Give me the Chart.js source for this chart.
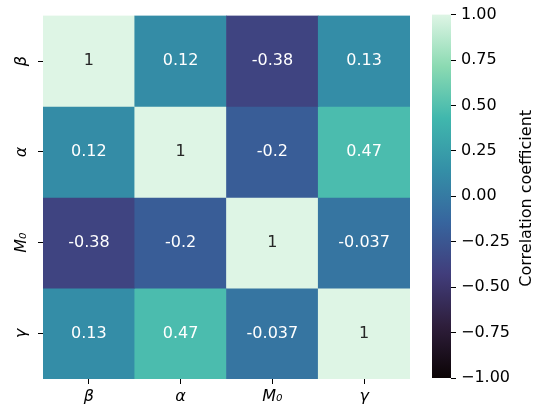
<html>
<head>
<script src="https://cdn.jsdelivr.net/npm/chart.js@4.4.0/dist/chart.umd.min.js"></script>
<style>
  body { margin: 0; background: #fff; }
  #wrap { position: relative; width: 541px; height: 410px; }
  #wrap canvas { position: absolute; left: 0; top: 0; }
</style>
</head>
<body>
<div id="wrap">
  <canvas id="heat" width="541" height="410"></canvas>
  <canvas id="cbar" width="541" height="410"></canvas>
</div>
<script>
// variables (rows top->bottom, columns left->right)
const varLabels = ['β', 'α', 'M₀', 'γ'];

// correlation matrix, one array per row
const corrBeta  = [1, 0.12, -0.38, 0.13];
const corrAlpha = [0.12, 1, -0.2, 0.47];
const corrM0    = [-0.38, -0.2, 1, -0.037];
const corrGamma = [0.13, 0.47, -0.037, 1];

const cbarTicks = [-1, -0.75, -0.5, -0.25, 0, 0.25, 0.5, 0.75, 1];
const cbarTitle = 'Correlation coefficient';

// mako colormap, approximated by a few samples
const makoStops = [
  [0, '#0b0405'], [1/7, '#2e1e3b'], [2/7, '#413d7b'], [3/7, '#37659e'],
  [4/7, '#348fa7'], [5/7, '#40b7ad'], [6/7, '#8bdab2'], [1, '#def5e5']
];

function hexRgb(h) {
  return [parseInt(h.slice(1,3),16), parseInt(h.slice(3,5),16), parseInt(h.slice(5,7),16)];
}
function makoRgb(v) {
  let t = (v + 1) / 2;
  t = Math.max(0, Math.min(1, t));
  for (let i = 1; i < makoStops.length; i++) {
    if (t <= makoStops[i][0]) {
      const [t0, c0] = makoStops[i-1], [t1, c1] = makoStops[i];
      const f = (t - t0) / (t1 - t0);
      const a = hexRgb(c0), b = hexRgb(c1);
      return a.map((x, k) => Math.round(x + (b[k] - x) * f));
    }
  }
  return hexRgb(makoStops[makoStops.length-1][1]);
}
function makoColor(v) {
  const c = makoRgb(v);
  return 'rgb(' + c.join(',') + ')';
}
function textColorFor(v) {
  const c = makoRgb(v).map(x => {
    x = x / 255;
    return x <= 0.03928 ? x / 12.92 : Math.pow((x + 0.055) / 1.055, 2.4);
  });
  const lum = 0.2126*c[0] + 0.7152*c[1] + 0.0722*c[2];
  return lum > 0.408 ? '#262626' : '#ffffff';
}

const rows = [corrBeta, corrAlpha, corrM0, corrGamma];
const tickFont = { family: 'DejaVu Sans', size: 16, style: 'italic' };

const annotPlugin = {
  id: 'annot',
  afterDatasetsDraw(chart) {
    const ctx = chart.ctx;
    ctx.save();
    ctx.font = '16px "DejaVu Sans"';
    ctx.textAlign = 'center';
    ctx.textBaseline = 'middle';
    chart.data.datasets.forEach((ds, i) => {
      chart.getDatasetMeta(i).data.forEach((el, j) => {
        const v = ds.vals[j];
        ctx.fillStyle = textColorFor(v);
        ctx.fillText(String(v), el.x, (el.y + el.base) / 2);
      });
    });
    ctx.restore();
  }
};

new Chart(document.getElementById('heat'), {
  type: 'bar',
  data: {
    labels: varLabels,
    datasets: rows.map((r, i) => ({
      data: r.map(() => [i, i + 1]),
      vals: r,
      backgroundColor: r.map(makoColor),
      borderWidth: 0,
      grouped: false,
      barPercentage: 1,
      categoryPercentage: 1
    }))
  },
  options: {
    responsive: false,
    animation: false,
    layout: { padding: { top: 15, right: 131, left: 0, bottom: 0 } },
    plugins: { legend: { display: false }, tooltip: { enabled: false } },
    scales: {
      x: {
        offset: true,
        grid: { offset: false, drawOnChartArea: false, tickLength: 5, color: '#000', tickWidth: 1 },
        border: { display: false },
        ticks: { font: tickFont, color: '#000', padding: 3, maxRotation: 0 },
        afterFit: s => { s.height = 31; }
      },
      y: {
        type: 'linear',
        min: 0, max: 4,
        reverse: true,
        afterBuildTicks: s => { s.ticks = [0.5, 1.5, 2.5, 3.5].map(v => ({ value: v })); },
        grid: { drawOnChartArea: false, tickLength: 5, color: '#000', tickWidth: 1 },
        border: { display: false },
        ticks: {
          font: tickFont, color: '#000',
          minRotation: 90, maxRotation: 90,
          crossAlign: 'center', padding: 6,
          callback: v => varLabels[Math.floor(v)]
        },
        afterFit: s => { s.width = 43; }
      }
    }
  },
  plugins: [annotPlugin]
});

const cbarTitlePlugin = {
  id: 'cbarTitle',
  afterDraw(chart) {
    const a = chart.chartArea;
    const ctx = chart.ctx;
    ctx.save();
    ctx.translate(531, (a.top + a.bottom) / 2 + 2);
    ctx.rotate(-Math.PI / 2);
    ctx.font = '16px "DejaVu Sans"';
    ctx.fillStyle = '#000';
    ctx.textAlign = 'center';
    ctx.textBaseline = 'alphabetic';
    ctx.fillText(cbarTitle, 0, 0);
    ctx.restore();
  }
};

new Chart(document.getElementById('cbar'), {
  type: 'bar',
  data: {
    labels: [''],
    datasets: [{
      data: [[cbarTicks[0], cbarTicks[cbarTicks.length - 1]]],
      borderWidth: 0,
      barPercentage: 1,
      categoryPercentage: 1,
      backgroundColor: ctx => {
        const chart = ctx.chart;
        if (!chart.chartArea) return '#888';
        const y = chart.scales.y;
        const g = chart.ctx.createLinearGradient(0, y.getPixelForValue(-1), 0, y.getPixelForValue(1));
        makoStops.forEach(([t, c]) => g.addColorStop(t, c));
        return g;
      }
    }]
  },
  options: {
    responsive: false,
    animation: false,
    layout: { padding: { top: 14, right: 0, left: 432, bottom: 32 } },
    plugins: { legend: { display: false }, tooltip: { enabled: false } },
    scales: {
      x: { display: false },
      y: {
        position: 'right',
        min: -1, max: 1,
        afterBuildTicks: s => { s.ticks = cbarTicks.map(v => ({ value: v })); },
        grid: { drawOnChartArea: false, tickLength: 5, color: '#000', tickWidth: 1 },
        border: { display: false },
        ticks: {
          font: { family: 'DejaVu Sans', size: 16 }, color: '#000', padding: 5,
          callback: v => (v < 0 ? '\u2212' : '') + Math.abs(v).toFixed(2)
        },
        afterFit: s => { s.width = 90; }
      }
    }
  },
  plugins: [cbarTitlePlugin]
});
</script>
</body>
</html>
